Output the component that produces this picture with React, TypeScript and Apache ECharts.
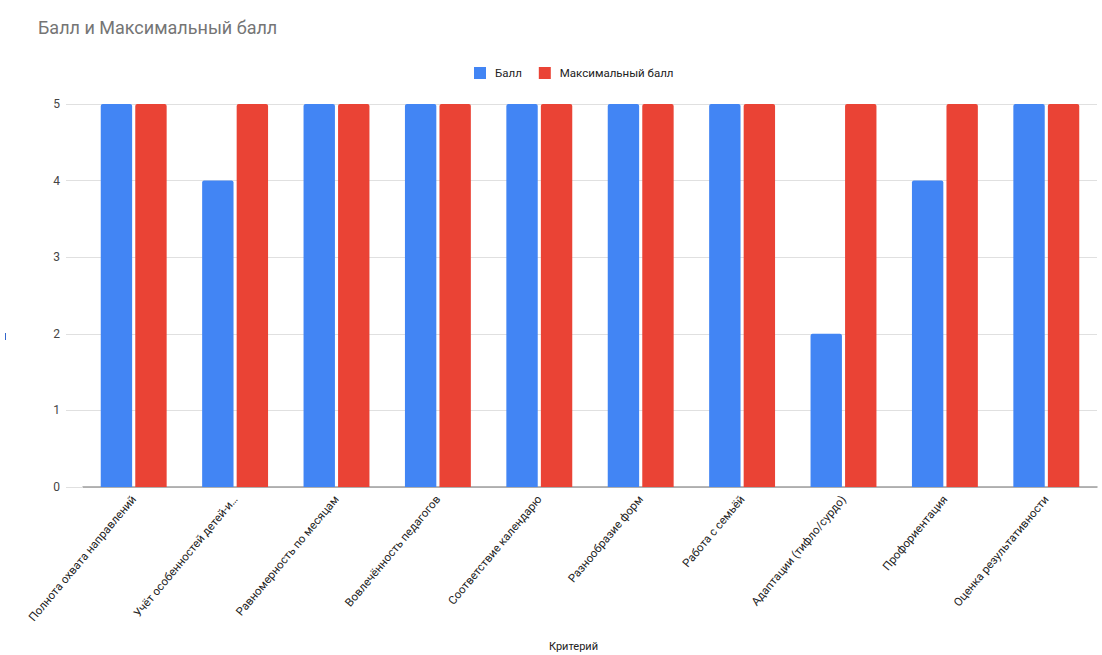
import React, { useEffect, useRef } from "react";
import * as echarts from "echarts";

const categories = [
  "Полнота охвата направлений",
  "Учёт особенностей детей-и…",
  "Равномерность по месяцам",
  "Вовлечённость педагогов",
  "Соответствие календарю",
  "Разнообразие форм",
  "Работа с семьёй",
  "Адаптации (тифло/сурдо)",
  "Профориентация",
  "Оценка результативности",
];
const scoreValues = [5, 4, 5, 5, 5, 5, 5, 2, 4, 5];
const maxValues = [5, 5, 5, 5, 5, 5, 5, 5, 5, 5];
const seriesNames = ["Балл", "Максимальный балл"];
const titleText = "Балл и Максимальный балл";
const xAxisTitle = "Критерий";

export default function App() {
  const ref = useRef<HTMLDivElement>(null);
  useEffect(() => {
    document.body.style.margin = "0";
    const chart = echarts.init(ref.current!, undefined, { renderer: "svg" });
    chart.setOption({
      animation: false,
      backgroundColor: "#ffffff",
      textStyle: { fontFamily: "Roboto, Arial, sans-serif" },
      title: {
        text: titleText,
        left: 33,
        top: 13,
        textStyle: { fontSize: 18, fontWeight: "normal", color: "#757575", fontFamily: "Roboto, Arial, sans-serif" },
      },
      legend: {
        left: 469,
        top: 62,
        itemWidth: 12,
        itemHeight: 12,
        itemGap: 17,
        icon: "rect",
        textStyle: { fontSize: 11.5, color: "#222222", padding: [0, 0, 0, 4] },
        data: seriesNames,
      },
      grid: { left: 83, right: 5, top: 104, bottom: 168, containLabel: false },
      xAxis: {
        type: "category",
        data: categories,
        axisTick: { show: false },
        axisLine: { show: true, lineStyle: { color: "#9e9e9e", width: 1.5 } },
        axisLabel: {
          rotate: 50,
          interval: 0,
          fontSize: 11.5,
          color: "#222222",
          margin: 10,
        },
      },
      yAxis: {
        type: "value",
        min: 0,
        max: 5,
        interval: 1,
        axisLine: { show: false },
        axisTick: { show: true, length: 17, lineStyle: { color: "#e0e0e0" } },
        splitLine: { lineStyle: { color: "#e0e0e0" } },
        axisLabel: { fontSize: 12, color: "#444444", margin: 23 },
      },
      graphic: [
        {
          type: "text",
          left: 549,
          top: 641,
          style: { text: xAxisTitle, fontSize: 11, fill: "#222222", fontFamily: "Roboto, Arial, sans-serif" },
        },
        {
          type: "rect",
          shape: { x: 5, y: 333, width: 1, height: 7 },
          style: { fill: "#3366cc" },
        },
      ],
      series: [
        {
          name: seriesNames[0],
          type: "bar",
          data: scoreValues,
          itemStyle: { color: "#4285F4", borderRadius: [2, 2, 0, 0] },
          barGap: "10%",
          barCategoryGap: "35%",
        },
        {
          name: seriesNames[1],
          type: "bar",
          data: maxValues,
          itemStyle: { color: "#EA4335", borderRadius: [2, 2, 0, 0] },
          barGap: "10%",
          barCategoryGap: "35%",
        },
      ],
    });
    return () => chart.dispose();
  }, []);
  return <div ref={ref} style={{ width: 1102, height: 655 }} />;
}
